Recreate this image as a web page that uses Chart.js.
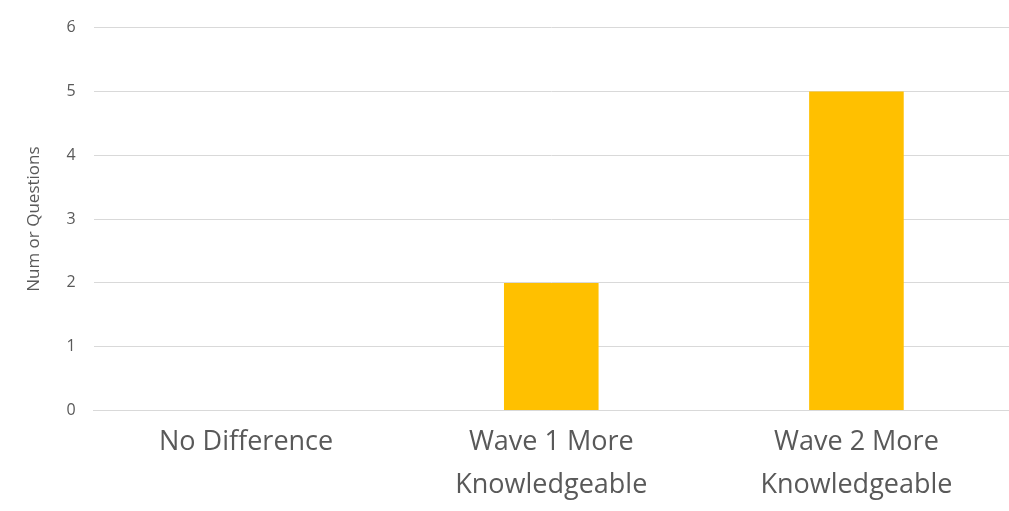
<!DOCTYPE html>
<html>
<head>
<meta charset="utf-8">
<script src="https://cdn.jsdelivr.net/npm/chart.js@4/dist/chart.umd.min.js"></script>
<style>
  html, body { margin: 0; padding: 0; background: #fff; }
  #wrap { width: 1009px; height: 511px; }
</style>
</head>
<body>
<div id="wrap"><canvas id="chart"></canvas></div>
<script>
const categories = [
  "No Difference",
  ["Wave 1 More", "Knowledgeable"],
  ["Wave 2 More", "Knowledgeable"]
];
const questionCounts = [0, 2, 5];
const yTicks = [0, 1, 2, 3, 4, 5, 6];

new Chart(document.getElementById("chart"), {
  type: "bar",
  data: {
    labels: categories,
    datasets: [{
      label: "Num or Questions",
      data: questionCounts,
      backgroundColor: "#FFC000",
      barPercentage: 0.62,
      categoryPercentage: 0.5
    }]
  },
  options: {
    responsive: true,
    maintainAspectRatio: false,
    animation: false,
    layout: { padding: { top: -10, right: 0, left: 20, bottom: 2 } },
    plugins: { legend: { display: false }, tooltip: { enabled: false } },
    scales: {
      x: {
        grid: { display: false },
        border: { color: "#d9d9d9" },
        ticks: {
          color: "#595959",
          font: { family: "Open Sans", size: 27, lineHeight: 1.6 },
          padding: 2,
          maxRotation: 0
        }
      },
      y: {
        min: 0,
        max: 6,
        afterBuildTicks: axis => { axis.ticks = yTicks.map(v => ({ value: v })); },
        grid: { color: "#d9d9d9", drawTicks: false },
        border: { display: false },
        ticks: {
          color: "#595959",
          font: { family: "Open Sans", size: 16 },
          padding: 18
        },
        title: {
          display: true,
          text: "Num or Questions",
          color: "#595959",
          font: { family: "Open Sans", size: 17 }
        }
      }
    }
  }
});
</script>
</body>
</html>
